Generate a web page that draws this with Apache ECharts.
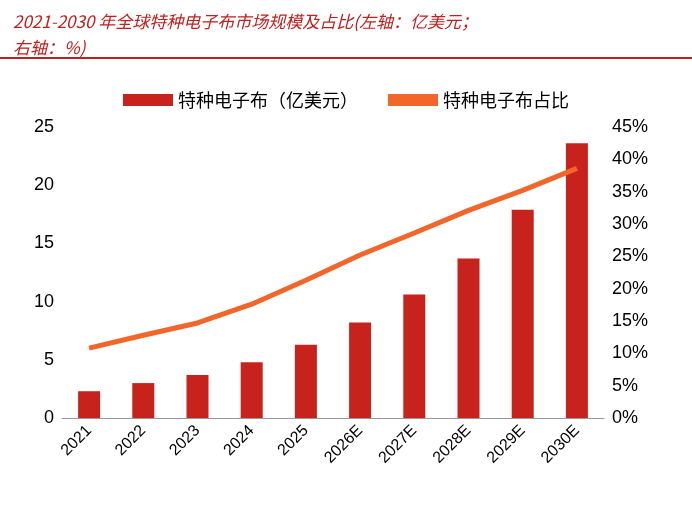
<!DOCTYPE html>
<html><head><meta charset="utf-8">
<script src="https://cdn.jsdelivr.net/npm/echarts@6/dist/echarts.min.js"></script>
<style>html,body{margin:0;padding:0;background:#fff}</style>
</head><body>
<div id="chart" style="width:692px;height:509px"></div>
<script>
// 年份
const years = ['2021','2022','2023','2024','2025','2026E','2027E','2028E','2029E','2030E']
// 市场规模（亿美元）
const marketSize = [2.3, 3.0, 3.7, 4.8, 6.3, 8.2, 10.6, 13.7, 17.9, 23.6]
// 占比（%）
const share = [10.8, 12.8, 14.7, 17.6, 21.3, 25.2, 28.6, 32.1, 35.2, 38.6]

const chart = echarts.init(document.getElementById('chart'))
chart.setOption({
  animation: false,
  title: {
    text: '2021-2030 年全球特种电子布市场规模及占比(左轴：亿美元；\n右轴：%)',
    left: 8, top: 4,
    textStyle: { color: '#c0201e', fontSize: 17, fontStyle: 'italic', fontWeight: 'normal', lineHeight: 26,
      fontFamily: 'Noto Sans CJK SC' }
  },
  graphic: [{ type: 'rect', shape: { x: 0, y: 57, width: 692, height: 2 }, style: { fill: '#c0201e' } }],
  legend: {
    top: 86, left: 'center', itemGap: 30,
    textStyle: { fontSize: 18, color: '#000', fontFamily: 'Noto Sans CJK SC' },
    data: [
      { name: '特种电子布（亿美元）', icon: 'rect', itemStyle: { color: '#c8221c' } },
      { name: '特种电子布占比', icon: 'rect' }
    ],
    itemWidth: 50, itemHeight: 12
  },
  grid: { left: 62, right: 88, top: 127, bottom: 91 },
  xAxis: {
    type: 'category', data: years,
    axisLine: { lineStyle: { color: '#999' } },
    axisTick: { show: false },
    axisLabel: { rotate: 45, fontSize: 16, color: '#000', margin: 10 }
  },
  yAxis: [
    { type: 'value', min: 0, max: 25, interval: 5, splitLine: { show: false },
      axisLine: { show: false }, axisLabel: { fontSize: 18, color: '#000' } },
    { type: 'value', min: 0, max: 45, interval: 5, splitLine: { show: false },
      axisLine: { show: false }, axisLabel: { fontSize: 18, color: '#000', formatter: '{value}%' } }
  ],
  series: [
    { name: '特种电子布（亿美元）', type: 'bar', data: marketSize, barWidth: 22,
      itemStyle: { color: '#c8221c' } },
    { name: '特种电子布占比', type: 'line', yAxisIndex: 1, data: share, symbol: 'none',
      lineStyle: { color: '#f2662a', width: 5 }, itemStyle: { color: '#f2662a' } }
  ]
})
</script>
</body></html>
